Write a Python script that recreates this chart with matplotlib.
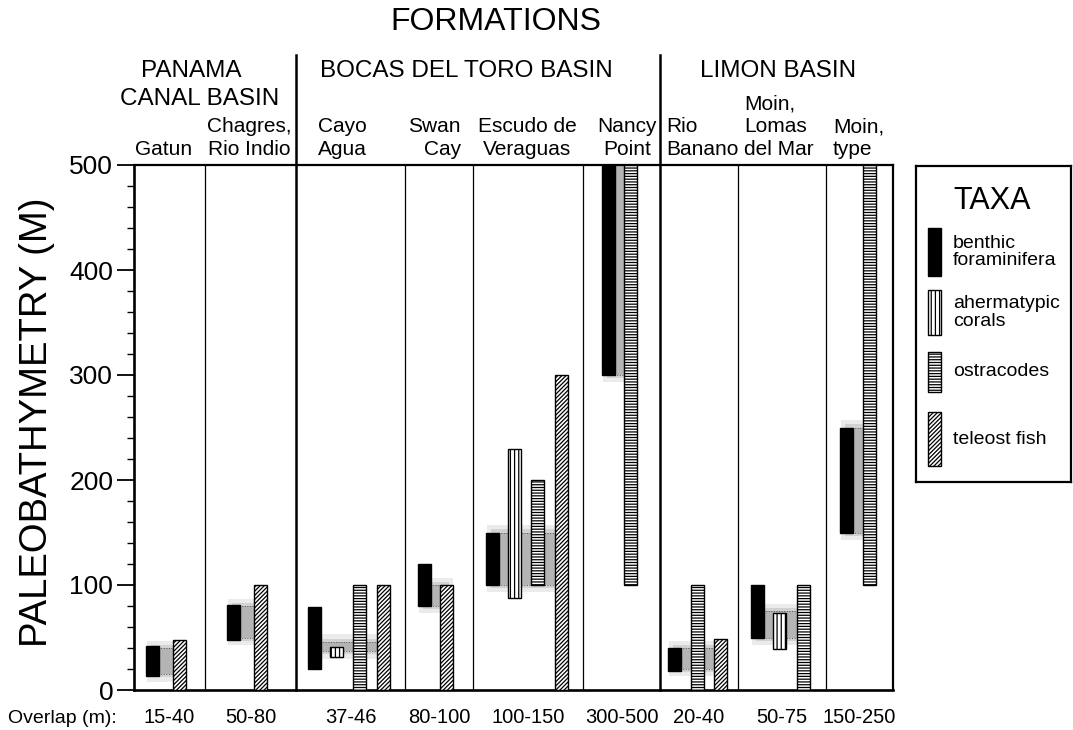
import matplotlib
matplotlib.use("Agg")
import matplotlib.pyplot as plt

plt.rcParams['font.family'] = ['Liberation Sans', 'DejaVu Sans']
plt.rcParams['hatch.linewidth'] = 0.9

# ---------------- data ----------------
basin_names = ["PANAMA\nCANAL BASIN", "BOCAS DEL TORO BASIN", "LIMON BASIN"]
formations = ["Gatun", "Chagres,\nRio Indio", "Cayo\nAgua", "Swan\nCay",
              "Escudo de\nVeraguas", "Nancy\nPoint", "Rio\nBanano",
              "Moin,\nLomas\ndel Mar", "Moin,\ntype"]
taxa = ["benthic\nforaminifera", "ahermatypic\ncorals", "ostracodes", "teleost fish"]
overlap_lo = [15, 50, 37, 80, 100, 300, 20, 50, 150]
overlap_hi = [40, 80, 46, 100, 150, 500, 40, 75, 250]
benthic = [(13, 42), (48, 81), (20, 79), (80, 120), (100, 150), (300, 500), (18, 40), (50, 100), (150, 250)]
corals = [None, None, (31, 41), None, (88, 230), None, None, (39, 73), None]
ostracodes = [None, None, (0, 100), None, (100, 200), (100, 500), (0, 100), (0, 100), (100, 500)]
teleost = [(0, 48), (0, 100), (0, 100), (0, 100), (0, 300), None, (0, 49), None, None]
yticks = [0, 100, 200, 300, 400, 500]

# ---------------- layout (pixel units) ----------------
W, H = 1073, 730
col_edges = [134, 205, 296, 405, 473, 583, 660, 738, 826, 893]
thick_edges = [296, 660]
bar_lefts = [[146, 173], [227, 254], [308, 330, 353, 377], [418, 440],
             [486, 508, 531, 555], [602, 624], [668, 691, 714],
             [751, 773, 797], [840, 863]]
bar_w = 13.5
styles = [dict(color='black', edgecolor='black'),
          dict(color='white', edgecolor='black', hatch='||||'),
          dict(color='white', edgecolor='black', hatch='------'),
          dict(color='white', edgecolor='black', hatch='////////')]

fig = plt.figure(figsize=(W / 100, H / 100), dpi=100)
fig.patch.set_facecolor('white')


def fx(px):
    return px / W


def fy(py):
    return 1 - py / H


ax = fig.add_axes([fx(134), fy(690), (893 - 134) / W, (690 - 165) / H])
ax.set_xlim(134, 893)
ax.set_ylim(0, 500)
ax.set_facecolor('white')

series = [benthic, corals, ostracodes, teleost]
for i in range(len(formations)):
    lefts = bar_lefts[i]
    present = [t for t in range(4) if series[t][i] is not None]
    # overlap smudge
    x0 = lefts[0] + bar_w / 2
    x1 = lefts[-1] + bar_w / 2
    lo, hi = overlap_lo[i], overlap_hi[i]
    top = min(hi + 7, 500)
    ax.bar(x0 - 6, top - (lo - 7), bottom=lo - 7, width=x1 - x0 + 12, align='edge',
           color='#ebebeb', zorder=1, linewidth=0)
    top = min(hi + 3, 500)
    ax.bar(x0 - 2, top - (lo - 3), bottom=lo - 3, width=x1 - x0 + 4, align='edge',
           color='#d2d2d2', zorder=1.05, linewidth=0)
    ax.bar(x0, hi - lo, bottom=lo, width=x1 - x0, align='edge',
           color='#b4b4b4', zorder=1.1, linewidth=0)
    for yb in (lo, hi):
        if yb < 500:
            ax.plot([x0, x1], [yb, yb], ls=':', lw=0.7, color='#555555', zorder=1.2)
    for k, t in enumerate(present):
        b_lo, b_hi = series[t][i]
        ax.bar(lefts[k], b_hi - b_lo, bottom=b_lo, width=bar_w, align='edge',
               linewidth=1.0, zorder=3, **styles[t])

# column dividers
for x in col_edges[1:-1]:
    if x in thick_edges:
        ax.plot([x, x], [0, (690 - 55) / 1.05], color='black', lw=1.8,
                clip_on=False, zorder=4)
    else:
        ax.axvline(x, color='black', lw=0.9, zorder=2)

for s in ax.spines.values():
    s.set_linewidth(1.6)
ax.spines['left'].set_linewidth(1.9)
ax.spines['bottom'].set_linewidth(1.9)

ax.set_xticks([])
ax.set_yticks(yticks)
ax.set_yticks(range(0, 501, 20), minor=True)
ax.tick_params(axis='y', which='major', length=12, width=1.3, labelsize=19, pad=3)
ax.tick_params(axis='y', which='minor', length=5, width=1.0)

# y label
fig.text(fx(37), fy(422), "PALEOBATHYMETRY (M)", rotation=90, ha='center', va='center',
         fontsize=27.5)

# headers
fig.text(fx(496), fy(30), "FORMATIONS", ha='center', va='baseline', fontsize=23)
basin_pos = [[(191, 77), (200, 105)], [(466, 77)], [(778, 77)]]
for name, pos in zip(basin_names, basin_pos):
    for line, (x, y) in zip(name.split("\n"), pos):
        fig.text(fx(x), fy(y), line, ha='center', va='baseline', fontsize=17.5)

form_pos = [(164, 'center'), (291, 'right'), (318, 'left'), (461, 'right'),
            (527, 'center'), (627, 'center'), (666, 'left'), (744, 'left'), (833, 'left')]
for name, (x, ha) in zip(formations, form_pos):
    lines = name.split("\n")
    n = len(lines)
    for j, line in enumerate(lines):
        y = 155 - (n - 1 - j) * 22.5
        fig.text(fx(x), fy(y), line, ha=ha, va='baseline', fontsize=15)

# overlap row
fig.text(fx(8), fy(723), "Overlap (m):", ha='left', va='baseline', fontsize=14)
for i in range(len(formations)):
    cx = (col_edges[i] + col_edges[i + 1]) / 2
    fig.text(fx(cx), fy(723), f"{overlap_lo[i]}-{overlap_hi[i]}", ha='center',
             va='baseline', fontsize=14.5)

# legend box
lg = fig.add_axes([fx(916), fy(482), (1071 - 916) / W, (482 - 166) / H])
lg.set_xlim(916, 1071)
lg.set_ylim(482, 166)
lg.set_xticks([])
lg.set_yticks([])
for s in lg.spines.values():
    s.set_linewidth(1.6)
lg.text(992, 201, "TAXA", ha='center', va='center', fontsize=22)
sw = [(228, 276), (290, 335), (352, 392), (412, 466)]
for t, (y0, y1) in enumerate(sw):
    lg.bar(928, y1 - y0, bottom=y0, width=13, align='edge', linewidth=1.0, **styles[t])
    lg.text(953, (y0 + y1) / 2, taxa[t], ha='left', va='center', fontsize=14,
            linespacing=1.05)

fig.savefig("out.png", dpi=100)
